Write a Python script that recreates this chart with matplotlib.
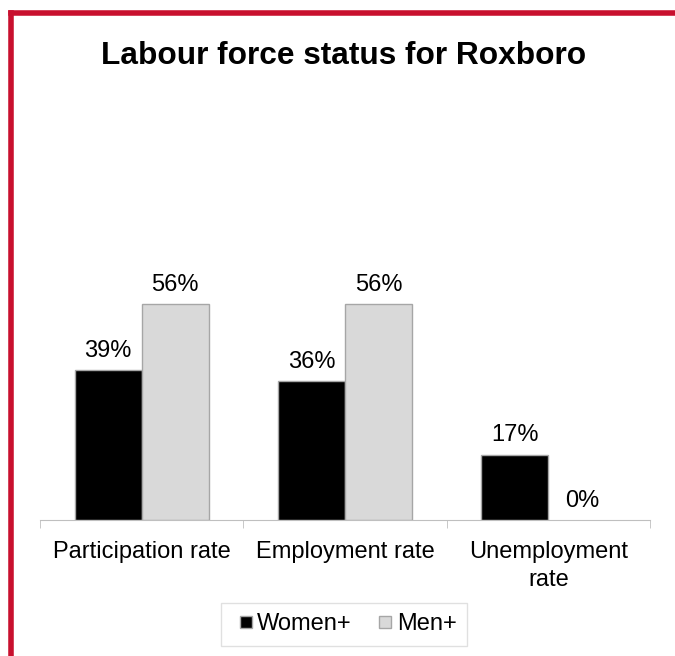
import matplotlib
matplotlib.use('Agg')
import matplotlib.pyplot as plt
import numpy as np
from matplotlib.lines import Line2D

categories = ['Participation rate', 'Employment rate', 'Unemployment\nrate']
women = [39, 36, 17]
men = [56, 56, 0]
series_names = ['Women+', 'Men+']

plt.rcParams['font.family'] = ['Liberation Sans', 'DejaVu Sans']

fig = plt.figure(figsize=(6.75, 6.56), dpi=100)
ax = fig.add_axes([40 / 675, 1 - 520 / 656, 610 / 675, 385 / 656])

x = np.arange(len(categories))
w = 0.33
b1 = ax.bar(x - w / 2, women, w, color='black', edgecolor='#A6A6A6', linewidth=1)
b2 = ax.bar(x + w / 2, men, w, color='#D9D9D9', edgecolor='#A6A6A6', linewidth=1)
for bars in (b1, b2):
    for r in bars:
        if r.get_height() == 0:
            r.set_linewidth(0)
    ax.bar_label(bars, labels=[f'{v:.0f}%' for v in bars.datavalues],
                 padding=6, fontsize=17)

ax.set_xlim(-0.5, len(categories) - 0.5)
ax.set_ylim(0, 100)
ax.set_yticks([])
for s in ('top', 'right', 'left'):
    ax.spines[s].set_visible(False)
ax.spines['bottom'].set_color('#BFBFBF')
ax.set_xticks(x, categories, fontsize=17, linespacing=1.35)
ax.tick_params(axis='x', length=0, pad=15)
ax.set_xticks(np.arange(len(categories) + 1) - 0.5, minor=True)
ax.tick_params(axis='x', which='minor', length=6, color='#BFBFBF')

fig.text(344 / 675, 1 - 56 / 656, 'Labour force status for Roxboro',
         ha='center', va='center', fontsize=22.8, fontweight='bold')

handles = [Line2D([], [], marker='s', linestyle='', markersize=8,
                  markerfacecolor=c, markeredgecolor='#A6A6A6')
           for c in ('black', '#D9D9D9')]
fig.legend(handles, series_names, loc='center', bbox_to_anchor=(344 / 675, 1 - 624.5 / 656),
           ncol=2, fontsize=17, frameon=True, fancybox=False, edgecolor='#D9D9D9',
           handletextpad=-0.1, columnspacing=0.8, handlelength=1.2, borderpad=0.45,
           borderaxespad=0)

# red frame on the left and top
fig.add_artist(Line2D([10.5 / 675, 10.5 / 675], [0, 1 - 12.5 / 656],
                      color='#C8102E', linewidth=4, transform=fig.transFigure,
                      solid_capstyle='projecting'))
fig.add_artist(Line2D([10.5 / 675, 1], [1 - 12.5 / 656, 1 - 12.5 / 656],
                      color='#C8102E', linewidth=4, transform=fig.transFigure))

fig.savefig('out.png', dpi=100)
